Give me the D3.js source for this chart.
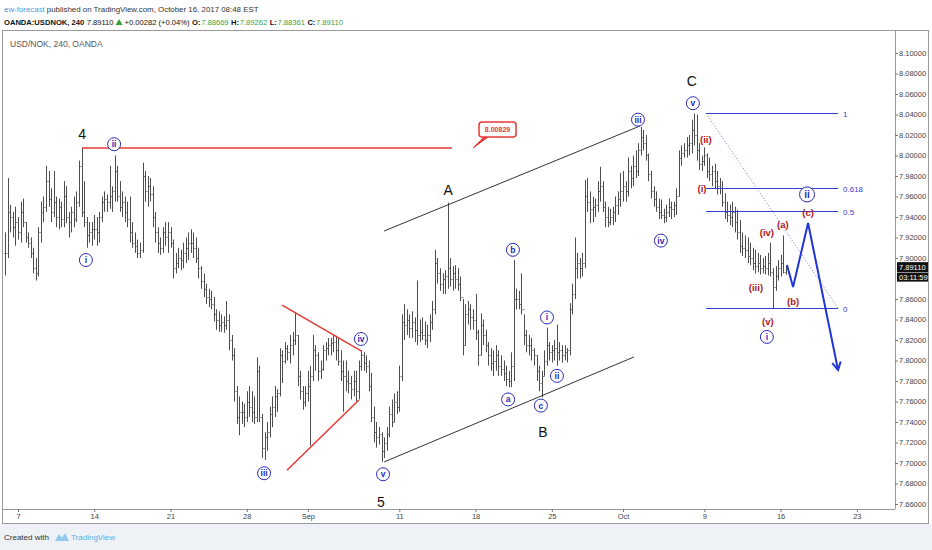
<!DOCTYPE html>
<html>
<head>
<meta charset="utf-8">
<script src="https://cdn.jsdelivr.net/npm/d3@7"></script>
<style>
  body { margin: 0; background: #fff; }
  svg { display: block; font-family: 'Liberation Sans', Arial, sans-serif; }
</style>
</head>
<body>
<svg id="chart" width="932" height="550"></svg>
<script>
// 4h bars, USD/NOK (OANDA). open = previous close
const firstOpen = 7.905
const highs = [
  7.925, 7.978, 7.952, 7.945, 7.950, 7.940, 7.955, 7.958, 7.935, 7.925,
  7.920, 7.910, 7.900, 7.930, 7.955, 7.960, 7.990, 7.985, 7.968, 7.985,
  7.960, 7.958, 7.955, 7.975, 7.970, 7.945, 7.950, 7.960, 7.965, 7.995,
  8.008, 7.975, 7.940, 7.935, 7.935, 7.942, 7.940, 7.945, 7.960, 7.965,
  7.962, 7.990, 7.970, 8.000, 7.990, 7.975, 7.965, 7.960, 7.955, 7.960,
  7.935, 7.925, 7.918, 7.915, 7.993, 7.985, 7.980, 7.978, 7.970, 7.945,
  7.930, 7.920, 7.930, 7.935, 7.935, 7.930, 7.918, 7.905, 7.910, 7.908,
  7.915, 7.920, 7.925, 7.928, 7.925, 7.920, 7.910, 7.892, 7.885, 7.875,
  7.870, 7.868, 7.862, 7.850, 7.848, 7.845, 7.843, 7.858, 7.845, 7.825,
  7.812, 7.775, 7.765, 7.760, 7.758, 7.770, 7.775, 7.770, 7.765, 7.803,
  7.795, 7.748, 7.730, 7.740, 7.755, 7.765, 7.775, 7.772, 7.812, 7.810,
  7.818, 7.815, 7.825, 7.828, 7.847, 7.825, 7.790, 7.775, 7.775, 7.790,
  7.795, 7.825, 7.815, 7.808, 7.800, 7.815, 7.818, 7.822, 7.822, 7.825,
  7.824, 7.822, 7.810, 7.800, 7.800, 7.790, 7.785, 7.790, 7.790, 7.800,
  7.810, 7.808, 7.805, 7.800, 7.788, 7.755, 7.740, 7.735, 7.730, 7.725,
  7.735, 7.755, 7.762, 7.768, 7.770, 7.795, 7.845, 7.855, 7.850, 7.845,
  7.848, 7.842, 7.878, 7.840, 7.842, 7.838, 7.835, 7.845, 7.858, 7.908,
  7.900, 7.890, 7.885, 7.888, 7.954, 7.900, 7.892, 7.893, 7.890, 7.882,
  7.860, 7.855, 7.858, 7.855, 7.850, 7.865, 7.830, 7.846, 7.840, 7.830,
  7.818, 7.812, 7.810, 7.815, 7.810, 7.805, 7.800, 7.795, 7.790, 7.808,
  7.898, 7.870, 7.868, 7.885, 7.845, 7.830, 7.825, 7.822, 7.812, 7.805,
  7.795, 7.790, 7.810, 7.832, 7.818, 7.815, 7.820, 7.835, 7.818, 7.815,
  7.815, 7.812, 7.856, 7.875, 7.920, 7.905, 7.900, 7.905, 7.976, 7.978,
  7.965, 7.960, 7.958, 7.975, 7.989, 7.975, 7.955, 7.950, 7.948, 7.950,
  7.960, 7.965, 7.983, 7.985, 7.975, 7.998, 7.990, 8.000, 8.005, 8.012,
  8.028, 8.025, 8.020, 8.002, 7.985, 7.970, 7.965, 7.958, 7.957, 7.948,
  7.952, 7.958, 7.955, 7.955, 7.968, 8.005, 8.010, 8.012, 8.018, 8.020,
  8.035, 8.041, 8.040, 8.012, 8.000, 8.008, 8.002, 7.998, 7.990, 7.992,
  7.985, 7.978, 7.975, 7.963, 7.955, 7.952, 7.955, 7.950, 7.947, 7.937,
  7.925, 7.922, 7.920, 7.915, 7.910, 7.908, 7.905, 7.903, 7.900, 7.902,
  7.905, 7.915, 7.890, 7.892, 7.898, 7.903, 7.922, 7.8926
]
const lows = [
  7.883, 7.900, 7.925, 7.920, 7.912, 7.918, 7.915, 7.930, 7.915, 7.910,
  7.900, 7.885, 7.878, 7.882, 7.915, 7.935, 7.945, 7.950, 7.935, 7.940,
  7.930, 7.928, 7.930, 7.930, 7.934, 7.920, 7.925, 7.930, 7.935, 7.950,
  7.940, 7.930, 7.910, 7.915, 7.912, 7.918, 7.912, 7.915, 7.935, 7.945,
  7.945, 7.948, 7.945, 7.955, 7.955, 7.945, 7.940, 7.935, 7.930, 7.915,
  7.910, 7.905, 7.900, 7.900, 7.905, 7.955, 7.950, 7.955, 7.930, 7.915,
  7.905, 7.903, 7.905, 7.912, 7.905, 7.910, 7.880, 7.885, 7.890, 7.888,
  7.890, 7.895, 7.898, 7.905, 7.900, 7.895, 7.880, 7.870, 7.862, 7.855,
  7.852, 7.850, 7.838, 7.830, 7.828, 7.828, 7.827, 7.830, 7.810, 7.800,
  7.760, 7.738, 7.727, 7.738, 7.735, 7.740, 7.745, 7.740, 7.738, 7.740,
  7.740, 7.705, 7.703, 7.712, 7.725, 7.735, 7.745, 7.750, 7.765, 7.778,
  7.797, 7.800, 7.797, 7.805, 7.815, 7.775, 7.762, 7.752, 7.755, 7.760,
  7.717, 7.780, 7.790, 7.780, 7.782, 7.790, 7.800, 7.805, 7.805, 7.808,
  7.800, 7.795, 7.780, 7.750, 7.770, 7.768, 7.762, 7.765, 7.760, 7.762,
  7.790, 7.790, 7.788, 7.770, 7.740, 7.720, 7.715, 7.718, 7.701, 7.705,
  7.712, 7.725, 7.735, 7.740, 7.748, 7.750, 7.780, 7.820, 7.825, 7.822,
  7.822, 7.818, 7.815, 7.818, 7.820, 7.815, 7.812, 7.818, 7.830, 7.845,
  7.875, 7.868, 7.865, 7.865, 7.870, 7.872, 7.868, 7.870, 7.868, 7.858,
  7.805, 7.815, 7.835, 7.830, 7.830, 7.820, 7.795, 7.805, 7.815, 7.808,
  7.795, 7.790, 7.785, 7.790, 7.785, 7.785, 7.780, 7.775, 7.774, 7.774,
  7.780, 7.850, 7.850, 7.845, 7.815, 7.808, 7.805, 7.800, 7.795, 7.780,
  7.770, 7.764, 7.785, 7.795, 7.800, 7.798, 7.800, 7.795, 7.800, 7.798,
  7.800, 7.798, 7.805, 7.845, 7.860, 7.880, 7.880, 7.882, 7.890, 7.945,
  7.934, 7.935, 7.940, 7.945, 7.955, 7.945, 7.930, 7.930, 7.932, 7.932,
  7.935, 7.942, 7.950, 7.955, 7.955, 7.960, 7.968, 7.970, 7.978, 7.980,
  8.000, 8.005, 7.995, 7.975, 7.958, 7.950, 7.945, 7.938, 7.938, 7.934,
  7.935, 7.940, 7.938, 7.940, 7.942, 7.960, 7.990, 7.998, 7.998, 8.000,
  8.002, 8.010, 7.995, 7.986, 7.985, 7.990, 7.978, 7.975, 7.970, 7.968,
  7.962, 7.962, 7.950, 7.938, 7.935, 7.932, 7.930, 7.925, 7.918, 7.905,
  7.902, 7.900, 7.895, 7.893, 7.888, 7.885, 7.886, 7.884, 7.885, 7.884,
  7.883, 7.882, 7.851, 7.868, 7.878, 7.882, 7.885, 7.8836
]
const closes = [
  7.905, 7.945, 7.940, 7.930, 7.935, 7.925, 7.945, 7.935, 7.920, 7.915,
  7.905, 7.890, 7.885, 7.925, 7.945, 7.950, 7.975, 7.958, 7.945, 7.955,
  7.940, 7.950, 7.938, 7.960, 7.940, 7.935, 7.945, 7.938, 7.955, 7.990,
  7.945, 7.935, 7.922, 7.925, 7.928, 7.928, 7.925, 7.940, 7.955, 7.958,
  7.955, 7.960, 7.965, 7.985, 7.960, 7.950, 7.955, 7.945, 7.938, 7.925,
  7.915, 7.912, 7.905, 7.908, 7.980, 7.965, 7.970, 7.962, 7.940, 7.925,
  7.915, 7.910, 7.925, 7.920, 7.925, 7.915, 7.890, 7.895, 7.900, 7.898,
  7.905, 7.910, 7.915, 7.915, 7.910, 7.900, 7.890, 7.878, 7.870, 7.862,
  7.860, 7.855, 7.845, 7.840, 7.835, 7.838, 7.835, 7.840, 7.820, 7.805,
  7.770, 7.745, 7.750, 7.750, 7.745, 7.760, 7.755, 7.750, 7.745, 7.790,
  7.745, 7.715, 7.725, 7.730, 7.748, 7.755, 7.765, 7.768, 7.805, 7.800,
  7.812, 7.808, 7.815, 7.820, 7.825, 7.785, 7.770, 7.760, 7.768, 7.775,
  7.785, 7.810, 7.805, 7.790, 7.792, 7.810, 7.812, 7.815, 7.817, 7.818,
  7.810, 7.800, 7.790, 7.785, 7.780, 7.778, 7.772, 7.780, 7.770, 7.795,
  7.805, 7.798, 7.795, 7.775, 7.745, 7.730, 7.725, 7.728, 7.712, 7.720,
  7.728, 7.748, 7.740, 7.760, 7.755, 7.785, 7.838, 7.835, 7.840, 7.832,
  7.838, 7.830, 7.825, 7.828, 7.825, 7.820, 7.825, 7.838, 7.850, 7.895,
  7.885, 7.875, 7.880, 7.882, 7.890, 7.880, 7.885, 7.880, 7.875, 7.862,
  7.815, 7.845, 7.850, 7.842, 7.840, 7.828, 7.805, 7.835, 7.825, 7.815,
  7.805, 7.798, 7.800, 7.805, 7.795, 7.792, 7.788, 7.782, 7.780, 7.795,
  7.860, 7.860, 7.855, 7.850, 7.825, 7.815, 7.815, 7.810, 7.805, 7.790,
  7.778, 7.785, 7.800, 7.815, 7.808, 7.810, 7.812, 7.808, 7.810, 7.805,
  7.808, 7.810, 7.850, 7.865, 7.890, 7.895, 7.890, 7.895, 7.960, 7.955,
  7.948, 7.950, 7.952, 7.965, 7.970, 7.950, 7.940, 7.935, 7.940, 7.945,
  7.952, 7.958, 7.965, 7.970, 7.965, 7.985, 7.978, 7.990, 7.985, 8.005,
  8.018, 8.012, 8.000, 7.982, 7.965, 7.958, 7.950, 7.945, 7.942, 7.940,
  7.945, 7.950, 7.948, 7.952, 7.960, 7.998, 8.002, 8.005, 8.010, 8.012,
  8.025, 8.020, 8.005, 7.992, 7.995, 8.000, 7.985, 7.982, 7.985, 7.975,
  7.970, 7.968, 7.955, 7.945, 7.942, 7.940, 7.945, 7.935, 7.925, 7.912,
  7.910, 7.908, 7.902, 7.900, 7.895, 7.892, 7.895, 7.890, 7.892, 7.890,
  7.895, 7.886, 7.872, 7.882, 7.890, 7.895, 7.8867, 7.8911
]

// axes
const timeLabels = ['7', '14', '21', '28', 'Sep', '11', '18', '25', 'Oct', '9', '16', '23']
const timeBars = [5, 35, 65, 95, 119, 155, 185, 215, 243, 275, 305, 335]
const priceTicks = [8.10, 8.08, 8.06, 8.04, 8.02, 8.00, 7.98, 7.96, 7.94, 7.92, 7.90,
  7.86, 7.84, 7.82, 7.80, 7.78, 7.76, 7.74, 7.72, 7.70, 7.68, 7.66]
const lastPrice = 7.8911
const countdown = '03:11:59'

// annotations: [text, bar, price]
const waveMajor = [['4', 30.2, 8.021], ['A', 174.2, 7.966], ['B', 211.5, 7.730], ['C', 270.1, 8.073], ['5', 147.8, 7.662]]
const waveMinor = [
  ['i', 31.7, 7.898], ['ii', 42.8, 8.011], ['iii', 101.8, 7.690], ['iv', 139.9, 7.821], ['v', 148.6, 7.689],
  ['a', 197.8, 7.762], ['b', 199.7, 7.908], ['c', 210.7, 7.756], ['i', 213.1, 7.842], ['ii', 217.0, 7.785],
  ['iii', 248.9, 8.035], ['iv', 257.9, 7.917], ['v', 270.5, 8.051], ['i', 299.6, 7.823], ['ii', 315.4, 7.962]
]
const waveMinute = [
  ['(ii)', 275.6, 8.016], ['(i)', 274.1, 7.968], ['(iv)', 299.6, 7.925], ['(a)', 305.9, 7.933],
  ['(iii)', 295.3, 7.871], ['(v)', 300.0, 7.838], ['(b)', 309.9, 7.858], ['(c)', 315.8, 7.944]
]
const resistance = { price: 8.0073, from: 30.2, to: 175.7, tag: 184, label: '8.00829' }
const triangleUpper = [[108.9, 7.854], [140.3, 7.809]]
const triangleLower = [[110.8, 7.693], [139.1, 7.7615]]
const channelUpper = [[149, 7.9263], [249.7, 8.0288]]
const channelLower = [[149, 7.701], [247.3, 7.8034]]
const fibLevels = [1, 0.618, 0.5, 0]
const fibLabels = ['1', '0.618', '0.5', '0']
const fibRange = { high: 8.041, low: 7.851, from: 275.7, to: 327.6 }
const projection = [[307.5, 7.8932], [309.9, 7.8717], [315.8, 7.9341], [327.6, 7.7907]]

const svg = d3.select('#chart')
const plotRight = 895
const plotBottom = 509

const x = d3.scaleLinear().domain([0, 330]).range([5.3, 5.3 + 330 * 2.542])
const y = d3.scaleLinear().domain([7.66, 8.10]).range([504, 53])

// Header: runs laid out one after the other, [text, colour, bold, gap after]
const green = '#3aa13a'
const flow = (runs, x0, yy, size) => {
	let cx = x0
	runs.forEach(([t, col, bold, gap]) => {
		if (t === '▲') {
			svg.append('path').attr('d', `M${cx},${yy} L${cx + 3.5},${yy - 6} L${cx + 7},${yy} Z`).attr('fill', col)
			cx += 7 + gap
			return
		}
		const node = svg.append('text')
			.attr('x', cx).attr('y', yy)
			.attr('font-size', size)
			.attr('font-weight', bold ? 'bold' : 'normal')
			.attr('fill', col)
			.text(t)
		cx += node.node().getComputedTextLength() + gap
	})
}
flow([['ew-forecast', '#4a9de0', false, 2], ['published on TradingView.com, October 16, 2017 08:48 EST', '#333', false, 0]], 4, 12, 7.9)
flow([
	['OANDA:USDNOK, 240', '#111', true, 2.5], ['7.89110', '#111', false, 2], ['▲', green, false, 2],
	['+0.00282 (+0.04%)', '#111', false, 2.5],
	['O:', '#111', true, 0.6], ['7.88669', green, false, 2.5],
	['H:', '#111', true, 0.6], ['7.89262', green, false, 2.5],
	['L:', '#111', true, 0.6], ['7.88361', green, false, 2.5],
	['C:', '#111', true, 0.6], ['7.89110', green, false, 0]
], 4, 25, 7.6)

// Footer strip
svg.append('rect').attr('x', 0).attr('y', 524).attr('width', 932).attr('height', 26).attr('fill', '#eef1f6')
svg.append('text').attr('x', 4).attr('y', 540).attr('font-size', 8).attr('fill', '#333').text('Created with')
svg.append('path')
	.attr('d', 'M55,541 L59,534 L62,538 L65,533 L69,541 Z')
	.attr('fill', '#8fc9ee')
svg.append('text').attr('x', 71).attr('y', 540).attr('font-size', 8).attr('fill', '#5aaee6').text('TradingView')

// Frame
svg.append('rect').attr('x', 2.5).attr('y', 30.5).attr('width', 926).attr('height', 493)
	.attr('fill', '#fff').attr('stroke', '#9a9a9a')
svg.append('line').attr('x1', plotRight + 0.5).attr('x2', plotRight + 0.5).attr('y1', 31).attr('y2', plotBottom)
	.attr('stroke', '#9a9a9a')
svg.append('line').attr('x1', 3).attr('x2', plotRight).attr('y1', plotBottom + 0.5).attr('y2', plotBottom + 0.5)
	.attr('stroke', '#9a9a9a')

svg.append('text').attr('x', 10).attr('y', 47).attr('font-size', 8.5).attr('fill', '#555')
	.text('USD/NOK, 240, OANDA')

// Price axis
const yAxis = d3.axisRight(y).tickValues(priceTicks).tickFormat(d3.format('.5f')).tickSize(3).tickPadding(1)
const gy = svg.append('g').attr('transform', `translate(${plotRight},0)`).call(yAxis)
gy.select('.domain').remove()
gy.selectAll('line').attr('stroke', '#777')
gy.selectAll('text').attr('font-size', 7.5).attr('fill', '#444').attr('font-family', 'Liberation Sans, Arial, sans-serif')

// Time axis
const xAxis = d3.axisBottom(x).tickValues(timeBars).tickFormat((d, i) => timeLabels[i]).tickSize(3).tickPadding(2)
const gx = svg.append('g').attr('transform', `translate(0,${plotBottom})`).call(xAxis)
gx.select('.domain').remove()
gx.selectAll('line').attr('stroke', '#777')
gx.selectAll('text').attr('font-size', 7.5).attr('fill', '#444').attr('font-family', 'Liberation Sans, Arial, sans-serif')

// Last price tag
const tagY = y(lastPrice)
svg.append('rect').attr('x', plotRight + 2).attr('y', tagY - 5).attr('width', 31).attr('height', 10).attr('fill', '#111')
svg.append('text').attr('x', plotRight + 4).attr('y', tagY + 3).attr('font-size', 7.5).attr('fill', '#fff').text(d3.format('.5f')(lastPrice))
svg.append('rect').attr('x', plotRight + 2).attr('y', tagY + 5.5).attr('width', 31).attr('height', 9).attr('fill', '#111')
svg.append('text').attr('x', plotRight + 4).attr('y', tagY + 12.5).attr('font-size', 7.5).attr('fill', '#fff').text(countdown)

// OHLC bars
const plot = svg.append('g')
const bars = highs.map((h, i) => ({ i, h, l: lows[i], c: closes[i], o: i ? closes[i - 1] : firstOpen }))
const px = d => Math.round(x(d.i)) + 0.5
const barStroke = '#4d4d4d'
plot.append('g').selectAll('path')
	.data(bars)
	.enter()
	.append('path')
	.attr('d', d => `M${px(d)},${y(d.h)}V${y(d.l)}M${px(d) - 1},${Math.round(y(d.o)) + 0.5}H${px(d)}M${px(d)},${Math.round(y(d.c)) + 0.5}H${px(d) + 1}`)
	.attr('stroke', barStroke)
	.attr('stroke-width', 1)
	.attr('fill', 'none')

const line = d3.line().x(d => x(d[0])).y(d => y(d[1]))

// Resistance line + price callout
const red = '#e53935'
plot.append('line')
	.attr('x1', x(resistance.from)).attr('x2', x(resistance.to))
	.attr('y1', y(resistance.price)).attr('y2', y(resistance.price))
	.attr('stroke', red).attr('stroke-width', 1.5)
const tx = x(resistance.tag)
const ty = y(resistance.price)
const callout = plot.append('g')
callout.append('path')
	.attr('d', `M${tx},${ty} L${tx + 11},${ty - 11} L${tx + 15},${ty - 11} Z`)
	.attr('fill', red).attr('stroke', red).attr('stroke-width', 1)
callout.append('rect')
	.attr('x', tx + 6).attr('y', ty - 26).attr('width', 37).attr('height', 15).attr('rx', 3)
	.attr('fill', '#fff').attr('stroke', red).attr('stroke-width', 1.5)
callout.append('text')
	.attr('x', tx + 24.5).attr('y', ty - 16).attr('text-anchor', 'middle')
	.attr('font-size', 7).attr('font-weight', 'bold').attr('fill', red)
	.text(resistance.label)

// Triangle
;[triangleUpper, triangleLower].forEach(seg => {
	plot.append('path').attr('d', line(seg)).attr('stroke', red).attr('stroke-width', 1.5).attr('fill', 'none')
})

// Channel
;[channelUpper, channelLower].forEach(seg => {
	plot.append('path').attr('d', line(seg)).attr('stroke', '#333').attr('stroke-width', 1).attr('fill', 'none')
})

// Fibonacci retracement
const blue = '#2f3fd0'
const fibPrice = lv => fibRange.low + lv * (fibRange.high - fibRange.low)
plot.append('path')
	.attr('d', line([[fibRange.from, fibRange.high], [fibRange.to, fibRange.low]]))
	.attr('stroke', '#6d78e0').attr('stroke-width', 1).attr('stroke-dasharray', '1,2').attr('fill', 'none')
fibLevels.forEach((lv, i) => {
	const yy = Math.round(y(fibPrice(lv))) + 0.5
	plot.append('line')
		.attr('x1', x(fibRange.from)).attr('x2', x(fibRange.to))
		.attr('y1', yy).attr('y2', yy)
		.attr('stroke', blue).attr('stroke-width', 1)
	plot.append('text')
		.attr('x', x(fibRange.to) + 5).attr('y', yy + 3)
		.attr('font-size', 8).attr('fill', blue)
		.text(fibLabels[i])
})

// Projected path
const projBlue = '#1f35d6'
plot.append('path').attr('d', line(projection))
	.attr('stroke', projBlue).attr('stroke-width', 2).attr('fill', 'none').attr('stroke-linejoin', 'miter')
const tip = projection[projection.length - 1]
const prev = projection[projection.length - 2]
const ang = Math.atan2(y(tip[1]) - y(prev[1]), x(tip[0]) - x(prev[0]))
const ex = x(tip[0])
const ey = y(tip[1])
const wing = a => `${ex - 9 * Math.cos(ang + a)},${ey - 9 * Math.sin(ang + a)}`
plot.append('path')
	.attr('d', `M${wing(0.5)} L${ex},${ey} L${wing(-0.5)}`)
	.attr('stroke', projBlue).attr('stroke-width', 2).attr('fill', 'none')

// Wave labels
plot.selectAll('.major')
	.data(waveMajor)
	.enter()
	.append('text')
	.attr('class', 'major')
	.attr('x', d => x(d[1])).attr('y', d => y(d[2]))
	.attr('text-anchor', 'middle').attr('dominant-baseline', 'central')
	.attr('font-size', 14).attr('fill', '#111')
	.text(d => d[0])

const minor = plot.selectAll('.minor')
	.data(waveMinor)
	.enter()
	.append('g')
	.attr('class', 'minor')
	.attr('transform', d => `translate(${x(d[1])},${y(d[2])})`)
minor.append('circle')
	.attr('r', (d, i) => i === waveMinor.length - 1 ? 7.5 : 6.5)
	.attr('fill', '#fff').attr('stroke', '#2a2ab4').attr('stroke-width', 1)
minor.append('text')
	.attr('text-anchor', 'middle').attr('dominant-baseline', 'central')
	.attr('font-size', (d, i) => i === waveMinor.length - 1 ? 10 : 8.5)
	.attr('font-weight', 'bold').attr('fill', '#2a2ab4')
	.text(d => d[0])

plot.selectAll('.minute')
	.data(waveMinute)
	.enter()
	.append('text')
	.attr('class', 'minute')
	.attr('x', d => x(d[1])).attr('y', d => y(d[2]))
	.attr('text-anchor', 'middle').attr('dominant-baseline', 'central')
	.attr('font-size', 9.5).attr('font-weight', 'bold').attr('fill', '#b3121c')
	.text(d => d[0])
</script>
</body>
</html>
